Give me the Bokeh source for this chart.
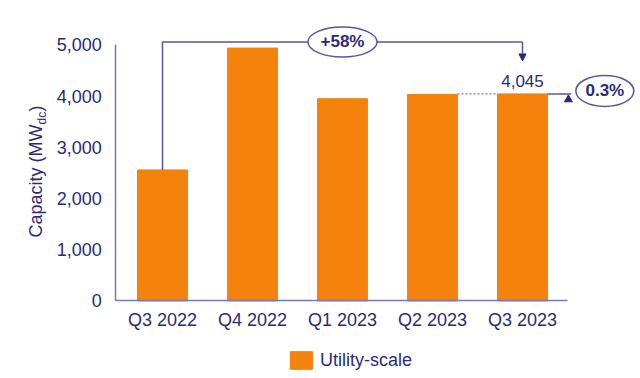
import math
from bokeh.plotting import figure
from bokeh.models import (Arrow, NormalHead, Legend, LegendItem, FixedTicker,
                          NumeralTickFormatter, Range1d, ColumnDataSource)
from bokeh.core.properties import value
from bokeh.embed import file_html
from bokeh.resources import INLINE

# ---- data ----
categories = ["Q3 2022", "Q4 2022", "Q1 2023", "Q2 2023", "Q3 2023"]
capacity = [2560, 4940, 3950, 4033, 4045]
y_ticks = [0, 1000, 2000, 3000, 4000, 5000]
yoy_label = "+58%"
qoq_label = "0.3%"
last_label = "4,045"
series_name = "Utility-scale"

FONT = "Liberation Sans"
NAVY = "#2a2a7c"
LINE = "#5656a6"
AXIS = "#7878bc"
ORANGE = "#F5820D"

idx = list(range(len(categories)))
src = ColumnDataSource(dict(x=idx, top=capacity))

W, H = 638, 376
p = figure(width=W, height=H, output_backend="svg", toolbar_location=None,
           x_range=Range1d(-1.8, 5.289), y_range=Range1d(-1475, 5869), min_border=0)
p.outline_line_color = None
p.xgrid.visible = False
p.ygrid.visible = False
p.background_fill_color = "white"
p.border_fill_color = "white"

bars = p.vbar(x="x", top="top", width=0.555, source=src, fill_color=ORANGE, line_color=ORANGE)

axis_x0 = idx[0] - 0.52
# axes (drawn at fixed positions inside the frame)
xa = p.xaxis[0]
xa.fixed_location = 0
xa.ticker = FixedTicker(ticks=idx)
xa.major_label_overrides = {i: c for i, c in zip(idx, categories)}
xa.bounds = (axis_x0, idx[-1] + 0.5)
xa.major_tick_out = 0
xa.major_tick_in = 0
xa.minor_tick_out = 0
xa.minor_tick_in = 0
xa.major_label_standoff = 9
xa.axis_line_color = AXIS
xa.axis_line_width = 1.5
xa.major_label_text_font = FONT
xa.major_label_text_font_size = "18px"
xa.major_label_text_color = NAVY

ya = p.yaxis[0]
ya.fixed_location = axis_x0
ya.ticker = FixedTicker(ticks=y_ticks)
ya.formatter = NumeralTickFormatter(format="0,0")
ya.bounds = (y_ticks[0], y_ticks[-1])
ya.major_tick_out = 0
ya.major_tick_in = 0
ya.minor_tick_out = 0
ya.minor_tick_in = 0
ya.major_label_standoff = 14
ya.axis_line_color = AXIS
ya.axis_line_width = 1.5
ya.major_label_text_font = FONT
ya.major_label_text_font_size = "18px"
ya.major_label_text_color = NAVY

# y-axis title with subscript
rot = math.pi / 2
p.text(x=[-1.411], y=[3447], text=["Capacity (MW"], angle=rot, text_align="right",
       text_baseline="alphabetic", text_font=value(FONT), text_font_size="18px", text_color=NAVY)
p.text(x=[-1.336], y=[3447], text=["dc"], angle=rot, text_align="left",
       text_baseline="alphabetic", text_font=value(FONT), text_font_size="12px", text_color=NAVY)
p.text(x=[-1.411], y=[3700], text=[")"], angle=rot, text_align="left",
       text_baseline="alphabetic", text_font=value(FONT), text_font_size="18px", text_color=NAVY)

# bracket (YoY)
first, last = idx[0], idx[-1]
bracket_y = 5059
arrow_tip = 4688
p.line(x=[first, first, last, last], y=[capacity[0], bracket_y, bracket_y, bracket_y],
       line_color=LINE, line_width=1.5)
p.add_layout(Arrow(end=NormalHead(size=7, fill_color=NAVY, line_color=NAVY),
                   x_start=last, y_start=bracket_y, x_end=last, y_end=arrow_tip,
                   line_color=LINE, line_width=1.5))
mid = (first + last) / 2
p.ellipse(x=[mid], y=[bracket_y], width=69, height=30, width_units="screen", height_units="screen",
          fill_color="white", line_color=LINE, line_width=1.5)
p.text(x=[mid], y=[bracket_y], text=[yoy_label], text_align="center", text_baseline="middle",
       text_font=value(FONT), text_font_size="17px", text_font_style="bold", text_color=NAVY)

# QoQ marker
hw = 0.555 / 2
p.line(x=[idx[-2] + hw, last - hw], y=[capacity[-1], capacity[-1]], line_color=LINE,
       line_width=1, line_dash="2 2")
p.line(x=[last + hw, last + 0.54], y=[capacity[-1], capacity[-1]], line_color=LINE, line_width=1.5)
p.scatter(x=[last + 0.51], y=[capacity[-1] - 110], marker="triangle", size=8,
          fill_color=NAVY, line_color=NAVY)
p.ellipse(x=[last + 0.915], y=[capacity[-1] + 57], width=58, height=31, width_units="screen",
          height_units="screen", fill_color="white", line_color=LINE, line_width=1.5)
p.text(x=[last + 0.915], y=[capacity[-1] + 57], text=[qoq_label], text_align="center",
       text_baseline="middle", text_font=value(FONT), text_font_size="17px",
       text_font_style="bold", text_color=NAVY)

# value label
p.text(x=[last], y=[capacity[-1] + 250], text=[last_label], text_align="center",
       text_baseline="alphabetic", text_font=value(FONT), text_font_size="17px", text_color=NAVY)

legend = Legend(items=[LegendItem(label=series_name, renderers=[bars])],
                location=(287, 5), orientation="horizontal",
                glyph_width=28, glyph_height=22, label_standoff=5, padding=0, margin=0,
                border_line_color=None, background_fill_alpha=0,
                label_text_font=FONT, label_text_font_size="18px", label_text_color=NAVY,
                label_height=22)
p.add_layout(legend, "center")

open("out.html", "w").write(file_html(p, INLINE))
